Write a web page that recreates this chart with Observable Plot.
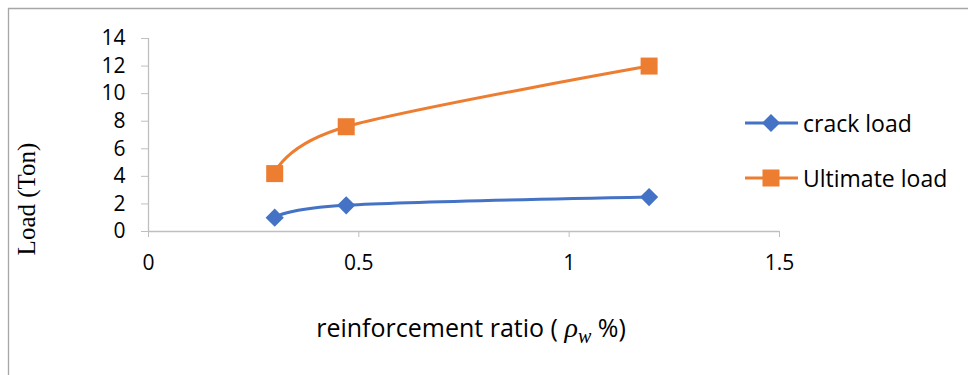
<!DOCTYPE html>
<html>
<head>
<meta charset="utf-8">
<script src="https://cdn.jsdelivr.net/npm/d3@7"></script>
<script src="https://cdn.jsdelivr.net/npm/@observablehq/plot@0.6"></script>
<style>
  html, body { margin: 0; padding: 0; background: #fff; }
  #chart svg { display: block; font-family: "Open Sans", sans-serif; }
  #chart g[aria-label="x-axis tick"] path,
  #chart g[aria-label="y-axis tick"] path { stroke: #bfbfbf; }
</style>
</head>
<body>
<div id="chart"></div>
<script>
// Data
const ratios = [0.3, 0.47, 1.19];
const crackLoad = [1.0, 1.9, 2.5];
const ultimateLoad = [4.2, 7.6, 12.0];
const seriesNames = ["crack load", "Ultimate load"];
const seriesColors = ["#4472C4", "#ED7D31"];
const seriesSymbols = ["diamond2", "square"];
const xTicks = [0, 0.5, 1, 1.5];
const yTicks = [0, 2, 4, 6, 8, 10, 12, 14];
const yLabel = "Load (Ton)";

const rows = [];
ratios.forEach((r, i) => {
  rows.push({x: r, y: crackLoad[i], s: seriesNames[0]});
  rows.push({x: r, y: ultimateLoad[i], s: seriesNames[1]});
});
const crackRows = rows.filter(d => d.s === seriesNames[0]);
const ultRows = rows.filter(d => d.s === seriesNames[1]);

const W = 968, H = 375;
const plot = Plot.plot({
  width: W, height: H,
  marginLeft: 148, marginRight: 189, marginTop: 38, marginBottom: 144,
  style: {fontFamily: "Open Sans, sans-serif", background: "#fff", overflow: "visible"},
  x: {domain: [0, 1.5]},
  y: {domain: [0, 14]},
  color: {domain: seriesNames, range: seriesColors},
  marks: [
    Plot.ruleY([0], {stroke: "#bfbfbf", strokeWidth: 1.3}),
    Plot.ruleX([0], {stroke: "#bfbfbf", strokeWidth: 1.3}),
    Plot.axisX({ticks: xTicks, tickSize: 6, tickPadding: 18, fontSize: 21, label: null, tickFormat: d => String(d), fill: "#000"}),
    Plot.axisY({ticks: yTicks, tickSize: 7, tickPadding: 16, fontSize: 21, label: null, fill: "#000"}),
    Plot.line(rows, {x: "x", y: "y", z: "s", stroke: "s", strokeWidth: 3, curve: "cardinal"}),
    Plot.dot(crackRows, {x: "x", y: "y", symbol: () => seriesSymbols[0], fill: seriesColors[0], r: 8.2}),
    Plot.dot(ultRows, {x: "x", y: "y", symbol: () => seriesSymbols[1], fill: seriesColors[1], r: 9.6})
  ]
});
document.getElementById("chart").appendChild(plot);

const svg = d3.select(plot);
// chart area border (top and left visible in reference)
svg.append("line").attr("x1", 8).attr("x2", W).attr("y1", 8.5).attr("y2", 8.5)
  .attr("stroke", "#a6a6a6").attr("stroke-width", 1.3);
svg.append("line").attr("x1", 8.5).attr("x2", 8.5).attr("y1", 8).attr("y2", H)
  .attr("stroke", "#a6a6a6").attr("stroke-width", 1.3);

// y axis title
svg.append("text")
  .attr("transform", "translate(26,199) rotate(-90)")
  .attr("text-anchor", "middle").attr("dominant-baseline", "central")
  .attr("font-family", "Liberation Serif, serif").attr("font-size", 25)
  .attr("fill", "#000").text(yLabel);

// x axis title
const xt = svg.append("text")
  .attr("x", 471).attr("y", 337).attr("text-anchor", "middle")
  .attr("font-family", "Open Sans, sans-serif").attr("font-size", 25).attr("fill", "#000");
xt.append("tspan").text("reinforcement ratio ( ");
xt.append("tspan").attr("font-family", "Liberation Serif, serif").attr("font-style", "italic").attr("font-size", 28).text("ρ");
xt.append("tspan").attr("font-family", "Liberation Serif, serif").attr("font-style", "italic").attr("font-size", 20).attr("dy", 6).text("w");
xt.append("tspan").attr("dy", -6).text(" %)");

// legend
const legendY = [123, 178];
seriesNames.forEach((name, i) => {
  const g = svg.append("g").attr("transform", `translate(0,${legendY[i]})`);
  g.append("line").attr("x1", 745).attr("x2", 798).attr("y1", 0).attr("y2", 0)
    .attr("stroke", seriesColors[i]).attr("stroke-width", 3);
  const sym = d3.symbol(i === 0 ? d3.symbolDiamond2 : d3.symbolSquare, i === 0 ? Math.PI * 8.2 * 8.2 : Math.PI * 9.6 * 9.6);
  g.append("path").attr("d", sym()).attr("transform", "translate(771,0)").attr("fill", seriesColors[i]);
  g.append("text").attr("x", 803).attr("y", 0).attr("text-anchor", "start").attr("dominant-baseline", "central")
    .attr("font-family", "Open Sans, sans-serif").attr("font-size", 23).attr("fill", "#000").text(name);
});
</script>
</body>
</html>
